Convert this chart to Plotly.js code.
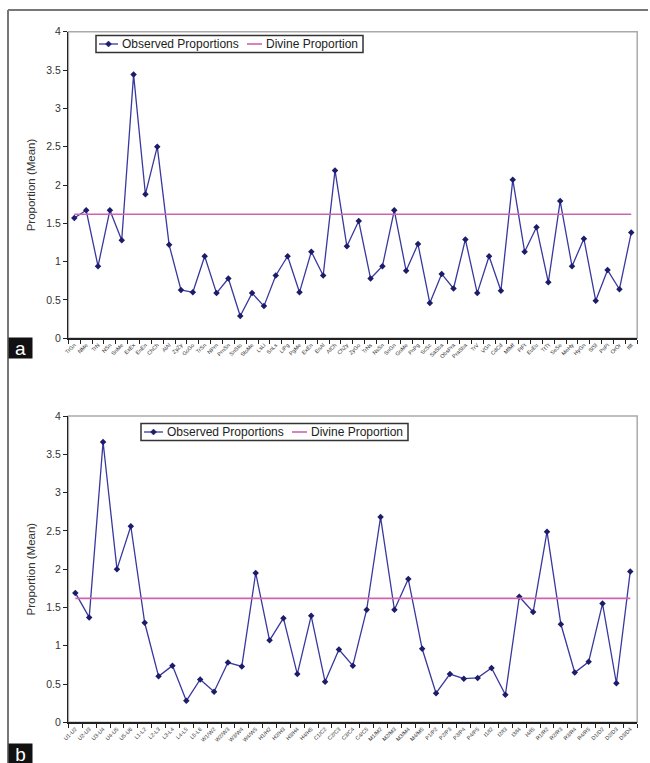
<!DOCTYPE html>
<html>
<head>
<meta charset="utf-8">
<script src="https://cdn.plot.ly/plotly-3.0.1.min.js"></script>
<style>html,body{margin:0;padding:0;background:#fff;}#chart{width:650px;height:763px;}</style>
</head>
<body>
<div id="chart"></div>
<script>
// ---- Data ----
const labelsA = ["TrGn","NMe","TrN","NSn","SnMe","ExEx","EnEn","ChCh","AlAl","ZyZy","GoGo","TrSn","NPrn","PrnSn","SnSto","StoMe","LsLi","SnLs","LiPg","PgMe","ExEn","EnAl","AlCh","ChZy","ZyGo","TrNs","NsSn","SnGn","GnMe","PnPg","ScSc","SaSba","ObsPra","PraSba","TrV","VGn","CdCd","MfMf","FtFt","EuEu","TtTt","SeSe","MeHy","HyGn","SlSl","PsPi","OrOr","ItIt"];
const valuesA = [1.57,1.67,0.94,1.67,1.28,3.44,1.88,2.50,1.22,0.63,0.60,1.07,0.59,0.78,0.29,0.59,0.42,0.82,1.07,0.60,1.13,0.82,2.19,1.20,1.53,0.78,0.94,1.67,0.88,1.23,0.46,0.84,0.65,1.29,0.59,1.07,0.62,2.07,1.13,1.45,0.73,1.79,0.94,1.30,0.49,0.89,0.64,1.38];

const labelsB = ["U1-U2","U2-U3","U3-U4","U4-U5","U5-U6","L1-L2","L2-L3","L3-L4","L4-L5","L5-L6","W1/W2","W2/W3","W3/W4","W4/W5","H1/H2","H2/H3","H3/H4","H4/H5","C1/C2","C2/C3","C3/C4","C4/C5","M1/M2","M2/M3","M3/M4","M4/M5","P1/P2","P2/P3","P3/P4","P4/P5","I1/I2","I2/I3","I3/I4","I4/I5","R1/R2","R2/R3","R3/R4","R4/R5","D1/D2","D2/D3","D3/D4"];
const valuesB = [1.69,1.37,3.66,2.00,2.56,1.30,0.60,0.74,0.28,0.56,0.40,0.78,0.73,1.95,1.07,1.36,0.63,1.39,0.53,0.95,0.74,1.47,2.68,1.47,1.87,0.96,0.38,0.63,0.57,0.58,0.71,0.36,1.64,1.44,2.49,1.28,0.65,0.79,1.55,0.51,1.97];

const DIVINE = 1.618;
const yTickVals = [0,0.5,1,1.5,2,2.5,3,3.5,4];
const seriesNames = ["Observed Proportions", "Divine Proportion"];

// ---- Styles ----
const W = 650, H = 763;
const obsColor = '#38389e', obsMarkerColor = '#1c1c6a', divColor = '#d062b2';
const obsLine = {color:obsColor, width:1.3};
const obsMarker = {symbol:'diamond', size:5, color:obsMarkerColor};
const divLine = {color:divColor, width:1.6};
const font = 'Liberation Sans, Arial, sans-serif';

function px(x){return x/W;}
function py(y){return 1 - y/H;}

const traces = [
  {x:labelsA, y:valuesA, type:'scatter', mode:'lines+markers', name:seriesNames[0],
   line:obsLine, marker:obsMarker, xaxis:'x', yaxis:'y'},
  {x:[labelsA[0], labelsA[labelsA.length-1]], y:[DIVINE, DIVINE], type:'scatter', mode:'lines', name:seriesNames[1],
   line:divLine, xaxis:'x', yaxis:'y'},
  {x:labelsB, y:valuesB, type:'scatter', mode:'lines+markers', name:seriesNames[0],
   line:obsLine, marker:obsMarker, xaxis:'x2', yaxis:'y2'},
  {x:[labelsB[0], labelsB[labelsB.length-1]], y:[DIVINE, DIVINE], type:'scatter', mode:'lines', name:seriesNames[1],
   line:divLine, xaxis:'x2', yaxis:'y2'}
];

function xAxis(anchor, n){
  return {
    type:'category', domain:[px(68.4), px(637.2)], anchor:anchor,
    range:[-0.5, n-0.5], tickson:'boundaries', ticks:'outside', ticklen:4, tickwidth:1, tickcolor:'#222',
    showline:true, linecolor:'#222', linewidth:1.5, showgrid:false, zeroline:false,
    tickangle:-45, tickfont:{family:font, size:5.5, color:'#333'}, automargin:false, fixedrange:true
  };
}
function yAxis(anchor, top, bottom){
  return {
    domain:[py(bottom), py(top)], anchor:anchor, range:[0,4], tickvals:yTickVals,
    ticks:'outside', ticklen:4, tickwidth:1, tickcolor:'#222',
    showline:true, linecolor:'#222', linewidth:1.5, showgrid:false, zeroline:false,
    tickfont:{family:font, size:10.5, color:'#333'},
    title:{text:'Proportion (Mean)', font:{family:font, size:11.5, color:'#333'}, standoff:8},
    automargin:false, fixedrange:true
  };
}

// Manual legend boxes (Excel-style compact legend)
function legendParts(left, top){
  const h = 17, w = 267, cy = top + h/2;
  const shapes = [
    {type:'rect', xref:'paper', yref:'paper', x0:px(left), x1:px(left+w), y0:py(top), y1:py(top+h),
     line:{color:'#333', width:1.5}, fillcolor:'#fff'},
    {type:'line', xref:'paper', yref:'paper', x0:px(left+3), x1:px(left+22), y0:py(cy), y1:py(cy),
     line:{color:obsColor, width:1.3}},
    {type:'path', xref:'paper', yref:'paper',
     path:`M ${px(left+12.5)} ${py(cy-3)} L ${px(left+15.5)} ${py(cy)} L ${px(left+12.5)} ${py(cy+3)} L ${px(left+9.5)} ${py(cy)} Z`,
     fillcolor:obsMarkerColor, line:{color:obsMarkerColor, width:0.5}},
    {type:'line', xref:'paper', yref:'paper', x0:px(left+151), x1:px(left+166), y0:py(cy), y1:py(cy),
     line:{color:divColor, width:1.6}}
  ];
  const annotations = [
    {text:seriesNames[0], xref:'paper', yref:'paper', x:px(left+24), y:py(cy), xanchor:'left', yanchor:'middle',
     showarrow:false, font:{family:font, size:12, color:'#222'}},
    {text:seriesNames[1], xref:'paper', yref:'paper', x:px(left+168), y:py(cy), xanchor:'left', yanchor:'middle',
     showarrow:false, font:{family:font, size:12, color:'#222'}}
  ];
  return {shapes, annotations};
}
const legA = legendParts(96, 35.5);
const legB = legendParts(141, 423.5);

const layout = {
  width:W, height:H, margin:{l:0,r:0,t:0,b:0}, paper_bgcolor:'#fff', plot_bgcolor:'#fff',
  showlegend:false,
  xaxis:xAxis('y', labelsA.length),
  yaxis:yAxis('x', 31.7, 338.3),
  xaxis2:xAxis('y2', labelsB.length),
  yaxis2:yAxis('x2', 416, 722.3),
  shapes:[
    {type:'rect', xref:'x domain', yref:'y domain', x0:0, x1:1, y0:0, y1:1, line:{color:'#aaaaaa', width:1.5}, layer:'below'},
    {type:'rect', xref:'x2 domain', yref:'y2 domain', x0:0, x1:1, y0:0, y1:1, line:{color:'#aaaaaa', width:1.5}, layer:'below'},
    {type:'line', xref:'paper', yref:'paper', x0:px(8), x1:px(648), y0:py(10), y1:py(10), line:{color:'#777', width:2}},
    {type:'line', xref:'paper', yref:'paper', x0:px(8), x1:px(8), y0:py(10), y1:0, line:{color:'#777', width:2}}
  ].concat(legA.shapes, legB.shapes),
  annotations:[
    {text:'a', xref:'paper', yref:'paper', x:px(8), y:py(337), xanchor:'left', yanchor:'top', showarrow:false,
     bgcolor:'#111', font:{family:font, size:19, color:'#fff'}, width:23, height:20, borderpad:0},
    {text:'b', xref:'paper', yref:'paper', x:px(8), y:py(743), xanchor:'left', yanchor:'top', showarrow:false,
     bgcolor:'#111', font:{family:font, size:19, color:'#fff'}, width:23, height:20, borderpad:0}
  ].concat(legA.annotations, legB.annotations)
};

Plotly.newPlot('chart', traces, layout, {displayModeBar:false, staticPlot:true});
</script>
</body>
</html>
